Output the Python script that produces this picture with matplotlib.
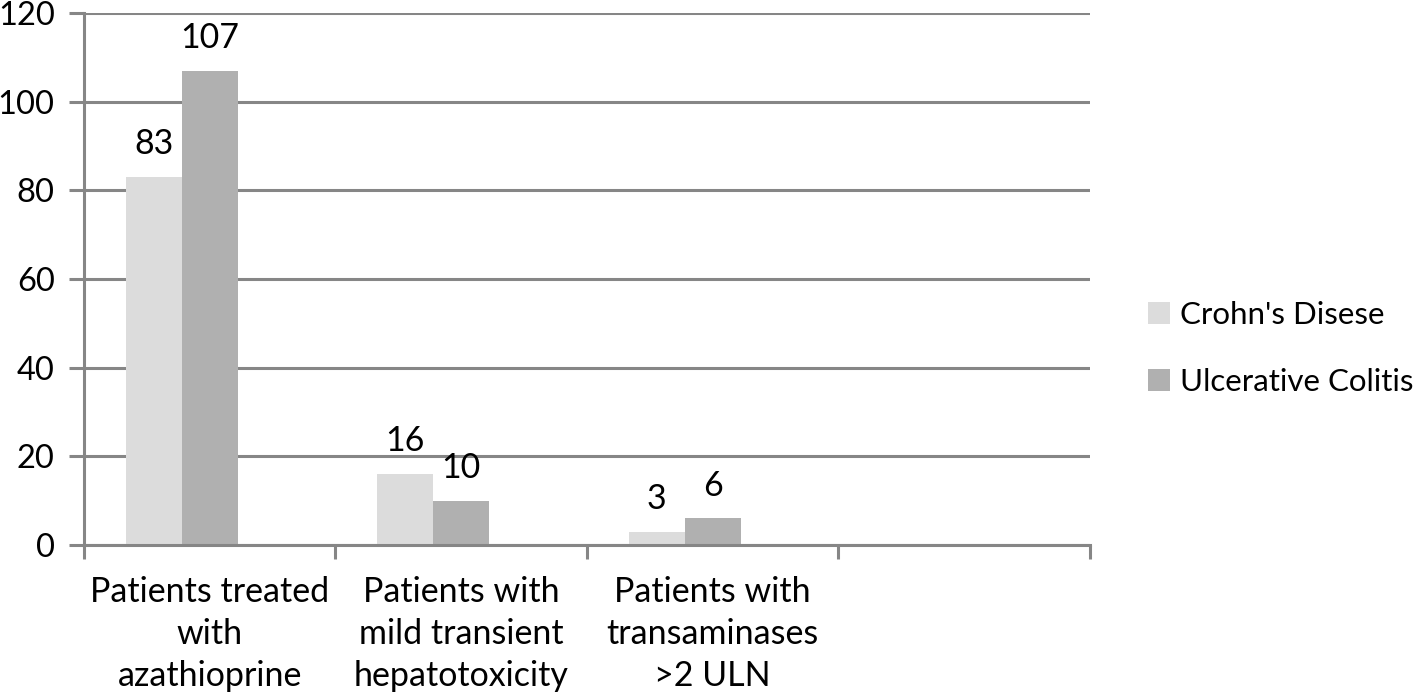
import matplotlib
matplotlib.use("Agg")
import matplotlib.pyplot as plt
import numpy as np

# Data
categories = ["Patients treated\nwith\nazathioprine",
              "Patients with\nmild transient\nhepatotoxicity",
              "Patients with\ntransaminases\n>2 ULN",
              ""]
crohns = [83, 16, 3]
colitis = [107, 10, 6]
series_names = ["Crohn's Disese", "Ulcerative Colitis"]
colors = ["#dcdcdc", "#b0b0b0"]
axis_color = "#868686"

plt.rcParams['font.family'] = ['Lato', 'DejaVu Sans']
fs = 24.5

fig = plt.figure(figsize=(14.18, 6.95), dpi=100)
ax = fig.add_axes([0.0592, 0.2158, 0.7095, 0.7655])

x = np.arange(len(crohns))
w = 0.223
# Excel leaves the pair shifted left of the slot centre
b1 = ax.bar(x - w, crohns, w, color=colors[0], label=series_names[0], zorder=2)
b2 = ax.bar(x, colitis, w, color=colors[1], label=series_names[1], zorder=2)
for bars in (b1, b2):
    ax.bar_label(bars, padding=12, fontsize=fs)

ax.set_xlim(-0.5, len(categories) - 0.5)
ax.set_ylim(0, 120)
ax.set_yticks(range(0, 121, 20))
ax.yaxis.grid(True, color=axis_color, linewidth=2.2, zorder=0)
ax.set_axisbelow(True)

# category ticks sit between the slots, labels in the middle
ax.set_xticks(np.arange(len(categories) + 1) - 0.5)
ax.set_xticklabels([])
ax.set_xticks(np.arange(len(categories)), minor=True)
ax.set_xticklabels(categories, minor=True, fontsize=fs, linespacing=1.4)
ax.tick_params(axis='x', which='minor', length=0, pad=22)
ax.tick_params(axis='x', which='major', length=10, width=2.2, color=axis_color)
ax.tick_params(axis='y', length=11, width=2.2, color=axis_color, labelsize=23.5, pad=10)

for s in ['top', 'right']:
    ax.spines[s].set_visible(False)
for s in ['left', 'bottom']:
    ax.spines[s].set_color(axis_color)
    ax.spines[s].set_linewidth(2.2)

ax.legend(loc='center left', bbox_to_anchor=(1.058, 0.37), frameon=False,
          borderaxespad=0, borderpad=0,
          fontsize=22.5, handlelength=0.7, handleheight=0.7, handletextpad=0.3,
          labelspacing=1.25)

fig.savefig("out.png", dpi=100)
